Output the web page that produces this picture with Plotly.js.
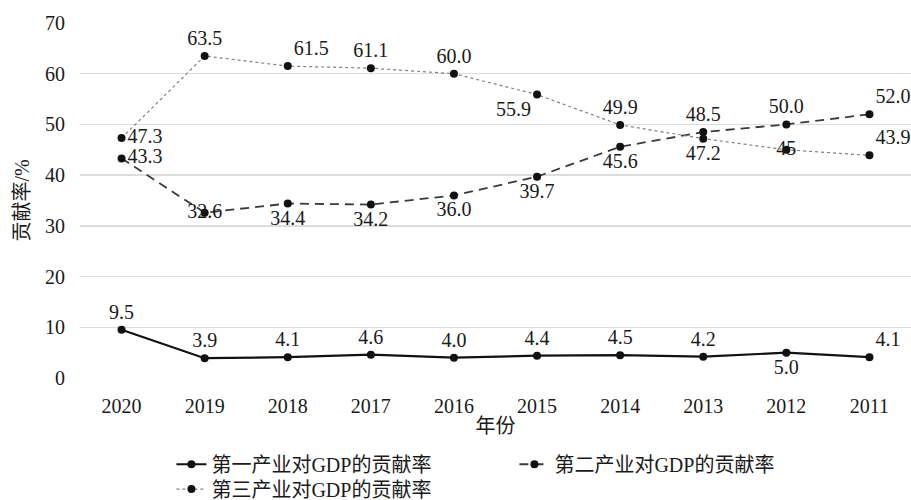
<!DOCTYPE html>
<html>
<head>
<meta charset="utf-8">
<script src="https://cdn.plot.ly/plotly-3.0.1.min.js"></script>
<style>html,body{margin:0;padding:0;background:#fff;}#chart{width:911px;height:500px;}</style>
</head>
<body>
<div id="chart"></div>
<script>
const years = ['2020','2019','2018','2017','2016','2015','2014','2013','2012','2011'];
const primary = [9.5, 3.9, 4.1, 4.6, 4.0, 4.4, 4.5, 4.2, 5.0, 4.1];
const secondary = [43.3, 32.6, 34.4, 34.2, 36.0, 39.7, 45.6, 48.5, 50.0, 52.0];
const tertiary = [47.3, 63.5, 61.5, 61.1, 60.0, 55.9, 49.9, 47.2, 45, 43.9];
const primaryLabels = ['9.5','3.9','4.1','4.6','4.0','4.4','4.5','4.2','5.0','4.1'];
const secondaryLabels = ['43.3','32.6','34.4','34.2','36.0','39.7','45.6','48.5','50.0','52.0'];
const tertiaryLabels = ['47.3','63.5','61.5','61.1','60.0','55.9','49.9','47.2','45','43.9'];
const seriesNames = ['第一产业对GDP的贡献率','第二产业对GDP的贡献率','第三产业对GDP的贡献率'];

const FONT = '"Liberation Serif", "Times New Roman", "Noto Sans CJK SC", serif';
const FS = 20;
const txtFont = {family: FONT, size: FS, color: '#1a1a1a'};

const traces = [
  {
    x: years, y: primary, name: seriesNames[0], type: 'scatter', mode: 'lines+markers+text',
    text: primaryLabels, legend: 'legend',
    textposition: ['top center','top center','top center','top center','top center','top center','top center','top center','bottom center','top right'],
    textfont: txtFont,
    line: {color: '#111', width: 2.2},
    marker: {color: '#111', size: 8},
    cliponaxis: false
  },
  {
    x: years, y: secondary, name: seriesNames[1], type: 'scatter', mode: 'lines+markers+text',
    text: secondaryLabels, legend: 'legend',
    textposition: ['middle right','middle center','bottom center','bottom center','bottom center','bottom center','bottom center','top center','top center','top right'],
    textfont: txtFont,
    line: {color: '#3a3a3a', width: 1.8, dash: '9px,6px'},
    marker: {color: '#111', size: 8},
    cliponaxis: false
  },
  {
    x: years, y: tertiary, name: seriesNames[2], type: 'scatter', mode: 'lines+markers+text',
    text: tertiaryLabels, legend: 'legend2',
    textposition: ['middle right','top center','top right','top center','top center','bottom left','top center','bottom center','middle center','top right'],
    textfont: txtFont,
    line: {color: '#808080', width: 1.2, dash: 'dot'},
    marker: {color: '#111', size: 8},
    cliponaxis: false
  }
];

const legendBase = {
  orientation: 'h', xanchor: 'left', yanchor: 'top',
  entrywidth: 298, entrywidthmode: 'pixels',
  font: {family: FONT, size: FS, color: '#1a1a1a'},
  bgcolor: 'rgba(0,0,0,0)'
};

const layout = {
  width: 911, height: 500,
  margin: {l: 80, r: 0, t: 23, b: 122, autoexpand: false},
  paper_bgcolor: '#fff', plot_bgcolor: '#fff',
  font: {family: FONT, size: FS, color: '#1a1a1a'},
  showlegend: true,
  xaxis: {
    type: 'category', range: [-0.5, 9.5],
    showgrid: false, zeroline: false, showline: false,
    ticks: '', ticklabelstandoff: 14,
    tickfont: {family: FONT, size: FS, color: '#1a1a1a'},
    title: {text: '年份', font: {family: FONT, size: FS, color: '#1a1a1a'}, standoff: 2}
  },
  yaxis: {
    range: [0, 70], dtick: 10, tick0: 0,
    showgrid: true, gridcolor: '#dcdcdc', gridwidth: 1.5,
    zeroline: false, showline: false, ticks: '', ticklabelstandoff: 14,
    tickfont: {family: FONT, size: FS, color: '#1a1a1a'},
    title: {text: '贡献率/%', font: {family: FONT, size: FS, color: '#1a1a1a'}, standoff: 10}
  },
  legend: Object.assign({}, legendBase, {x: 0.11, y: -0.188}),
  legend2: Object.assign({}, legendBase, {x: 0.11, y: -0.258})
};

Plotly.newPlot('chart', traces, layout, {displayModeBar: false, staticPlot: true});
</script>
</body>
</html>
